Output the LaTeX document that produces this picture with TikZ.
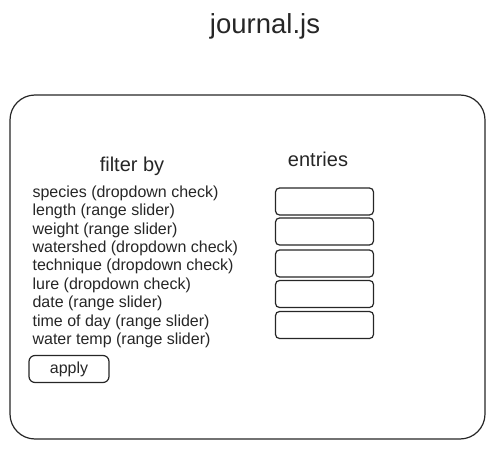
\documentclass[tikz,border=0pt]{standalone}
\usepackage{fontspec}
\setmainfont{Liberation Sans}
\usetikzlibrary{positioning}

\begin{document}
\begin{tikzpicture}[x=1pt,y=-1pt,line width=1.2pt,color=black!85,
  frame/.style={draw,rounded corners=25pt},
  entrybox/.style={draw,rounded corners=4pt,minimum width=98pt,minimum height=27pt},
  button/.style={draw,rounded corners=6pt,minimum width=80pt,minimum height=27pt,font=\fontsize{16}{19}\selectfont},
  item/.style={anchor=west,inner sep=0pt,font=\fontsize{16}{19}\selectfont},
  heading/.style={font=\fontsize{20}{24}\selectfont}]
\useasboundingbox (0,0) rectangle (495,449);
\node[font=\fontsize{27.5}{32}\selectfont] (title) at (265,26) {journal.js};
\draw[frame] (10,95) rectangle (485,439);
\node[heading] (filter) at (132,166) {filter by};
\node[heading] (entries) at (318,159) {entries};
\node[item] (species) at (32,193) {species (dropdown check)};
\node[item] (length) at (32,211.5) {length (range slider)};
\node[item] (weight) at (32,230) {weight (range slider)};
\node[item] (watershed) at (32,248) {watershed (dropdown check)};
\node[item] (technique) at (32,266.5) {technique (dropdown check)};
\node[item] (lure) at (32,285) {lure (dropdown check)};
\node[item] (date) at (32,303.5) {date (range slider)};
\node[item] (time) at (32,322) {time of day (range slider)};
\node[item] (temp) at (32,340) {water temp (range slider)};
\node[button] (apply) at (69,369) {apply};
\foreach \i/\y in {1/201.5,2/231.5,3/263.5,4/294,5/325}
  \node[entrybox] (e\i) at (324.5,\y) {};
\end{tikzpicture}
\end{document}
